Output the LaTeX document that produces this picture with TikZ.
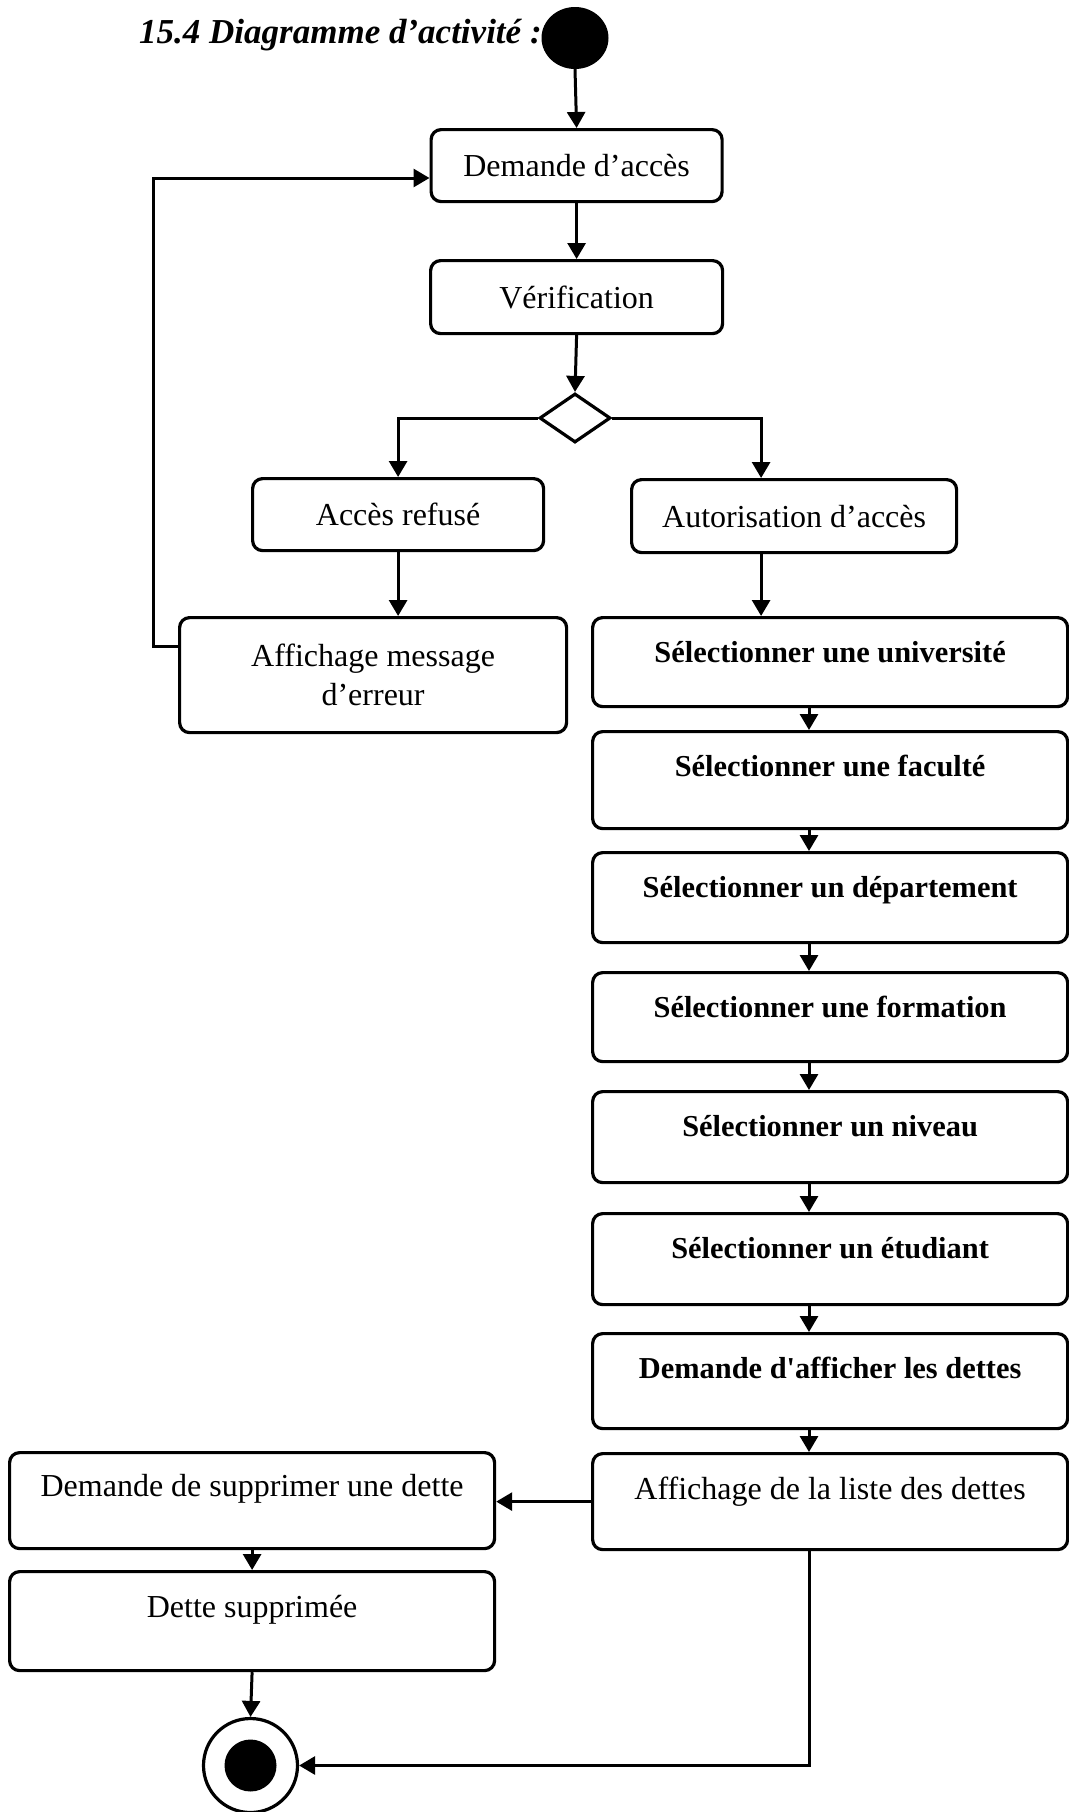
\documentclass[tikz,border=0pt]{standalone}
\usepackage{fontspec}
\setmainfont{Liberation Serif}[Ligatures=TeXOff]
\usetikzlibrary{arrows.meta,shapes.geometric}

\begin{document}
\begin{tikzpicture}[x=1pt,y=-1pt,
  act/.style={draw, line width=3.2pt, rounded corners=10pt, inner sep=0pt,
    anchor=north west, font=\fontsize{32}{39}\selectfont},
  selbox/.style={act, font=\bfseries\fontsize{30.4}{36}\selectfont,
    minimum width=475pt, text height=45pt},
  flow/.style={line width=3pt, -{Triangle[length=16pt,width=18pt]}},
]
\useasboundingbox (0,0) rectangle (1068,1812);

% heading and initial state
\node[anchor=base west, inner sep=0pt,
      font=\bfseries\itshape\fontsize{35}{40}\selectfont] (title) at (139,43)
      {15.4 Diagramme d’activité :};
\node[ellipse, fill=black, inner sep=0pt, minimum width=67pt, minimum height=62pt] (init) at (575,38) {};

% access control
\node[act, minimum width=291pt, minimum height=72pt] (dem) at (429.5,128) {Demande d’accès};
\node[act, minimum width=292pt, minimum height=73pt] (verif) at (429,259) {Vérification};
\node[diamond, draw, line width=3.2pt, inner sep=0pt, minimum width=71pt, minimum height=49pt] (dia) at (575,418) {};
\node[act, minimum width=291pt, minimum height=72pt] (refuse) at (251,477) {Accès refusé};
\node[act, minimum width=325pt, minimum height=73pt] (autor) at (630,478) {Autorisation d’accès};
\node[act, minimum width=387pt, minimum height=115pt, align=center] (err) at (178,616) {Affichage message\\d’erreur};

% selection chain
\node[selbox, text depth=44pt] (univ) at (591,616) {Sélectionner une université};
\node[selbox, text depth=52pt] (fac)  at (591,730) {Sélectionner une faculté};
\node[selbox, text depth=45pt] (dep)  at (591,851) {Sélectionner un département};
\node[selbox, text depth=44pt] (form) at (591,971) {Sélectionner une formation};
\node[selbox, text depth=46pt] (niv)  at (591,1090) {Sélectionner un niveau};
\node[selbox, text depth=46pt] (etu)  at (591,1212) {Sélectionner un étudiant};
\node[selbox, text depth=50pt] (dreq) at (591,1332) {Demande d'afficher les dettes};
\node[act, minimum width=475pt, text height=46pt, text depth=50pt] (liste) at (591,1452) {Affichage de la liste des dettes};

% deletion branch
\node[act, minimum width=485pt, text height=44pt, text depth=52pt] (supp) at (8,1451) {Demande de supprimer une dette};
\node[act, minimum width=485pt, text height=46pt, text depth=53pt] (dette) at (8,1570) {Dette supprimée};

% final state
\node[circle, draw, line width=3.2pt, inner sep=0pt, minimum size=94pt] (fin) at (250.5,1765.5) {};
\fill (fin.center) circle (26pt);

% transitions
\draw[flow] (init.south) -- (dem.north);
\draw[flow] (dem.south) -- (verif.north);
\draw[flow] (verif.south) -- (dia.north);
\draw[flow] (dia.west) -| (refuse.north);
\draw[flow] (dia.east) -| ([xshift=-33pt]autor.north);
\draw[flow] (refuse.south) -- (err.north -| refuse.south);
\draw[flow] ([xshift=-33pt]autor.south) -- ([xshift=-33pt]autor.south |- univ.north);
\coordinate (lp) at (153,178);
\draw[flow] ([yshift=28.5pt]err.west) -| (lp) -- (lp -| dem.west);
\coordinate (rc) at (809,0);
\foreach \a/\b in {univ/fac, fac/dep, dep/form, form/niv, niv/etu, etu/dreq, dreq/liste}
  \draw[flow] (rc |- \a.south) -- (rc |- \b.north);
\draw[flow] (liste.west) -- (supp.east |- liste.west);
\draw[flow] (supp.south) -- (dette.north);
\draw[flow] (dette.south) -- (fin.north);
\draw[flow] (rc |- liste.south) |- (fin.east);
\end{tikzpicture}
\end{document}
